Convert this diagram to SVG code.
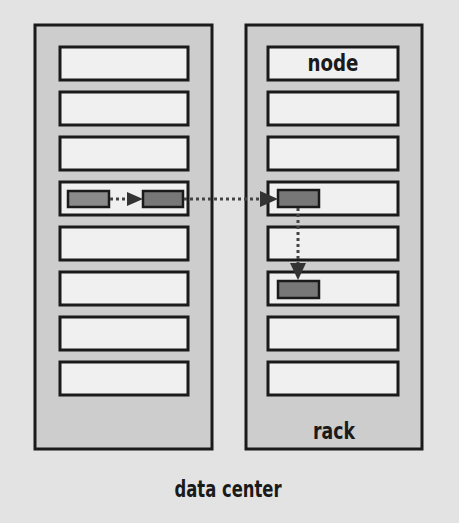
<svg xmlns="http://www.w3.org/2000/svg" width="459" height="523" viewBox="0 0 459 523">
<defs>
<style>
.rack{fill:#cdcdcd;stroke:#1a1a1a;stroke-width:3}
.node{fill:#f0f0f0;stroke:#1a1a1a;stroke-width:3}
.blk{fill:#8a8a8a;stroke:#1a1a1a;stroke-width:2.5}
.blk2{fill:#777;stroke:#1a1a1a;stroke-width:2.5}
.lbl{font-family:"DejaVu Sans Condensed","Liberation Sans Narrow","Liberation Sans",sans-serif;font-weight:bold;font-stretch:condensed;fill:#1a1a1a;text-anchor:middle}
.dot{fill:none;stroke:#444;stroke-width:3;stroke-dasharray:3 3}
</style>
</defs>
<rect width="459" height="523" fill="#e3e3e3"/>
<g id="rack-left">
<rect class="rack" x="35" y="25" width="177" height="424"/>
</g>
<g id="rack-right">
<rect class="rack" x="246" y="25" width="176" height="424"/>
<text class="lbl" x="334" y="439" font-size="23" textLength="42" lengthAdjust="spacingAndGlyphs">rack</text>
</g>
<g id="left-nodes">
<rect class="node" x="60" y="47" width="128" height="33"/>
<rect class="node" x="60" y="92" width="128" height="33"/>
<rect class="node" x="60" y="137" width="128" height="33"/>
<rect class="node" x="60" y="182" width="128" height="33"/>
<rect class="node" x="60" y="227" width="128" height="33"/>
<rect class="node" x="60" y="272" width="128" height="33"/>
<rect class="node" x="60" y="317" width="128" height="33"/>
<rect class="node" x="60" y="362" width="128" height="33"/>
</g>
<g id="right-nodes">
<rect class="node" x="268" y="47" width="130" height="33"/>
<text class="lbl" x="333" y="71" font-size="23" textLength="51" lengthAdjust="spacingAndGlyphs">node</text>
<rect class="node" x="268" y="92" width="130" height="33"/>
<rect class="node" x="268" y="137" width="130" height="33"/>
<rect class="node" x="268" y="182" width="130" height="33"/>
<rect class="node" x="268" y="227" width="130" height="33"/>
<rect class="node" x="268" y="272" width="130" height="33"/>
<rect class="node" x="268" y="317" width="130" height="33"/>
<rect class="node" x="268" y="362" width="130" height="33"/>
</g>
<g id="blocks">
<rect id="b1" class="blk" x="68" y="191" width="41" height="16"/>
<rect id="b2" class="blk2" x="143" y="191" width="40" height="16"/>
<rect id="b3" class="blk2" x="278" y="190" width="41" height="17"/>
<rect id="b4" class="blk2" x="278" y="281" width="41" height="17"/>
</g>
<g id="connectors">
<line class="dot" x1="110" y1="199" x2="127" y2="199"/>
<path d="M127,192 L143,199 L127,206 Z" fill="#333"/>
<line class="dot" x1="184" y1="199" x2="260" y2="199"/>
<path d="M260,191 L278,199 L260,207 Z" fill="#333"/>
<line class="dot" x1="298" y1="208" x2="298" y2="263"/>
<path d="M290,263 L298,280 L306,263 Z" fill="#333"/>
</g>
<text class="lbl" x="228" y="497" font-size="23" textLength="107" lengthAdjust="spacingAndGlyphs">data center</text>
</svg>
